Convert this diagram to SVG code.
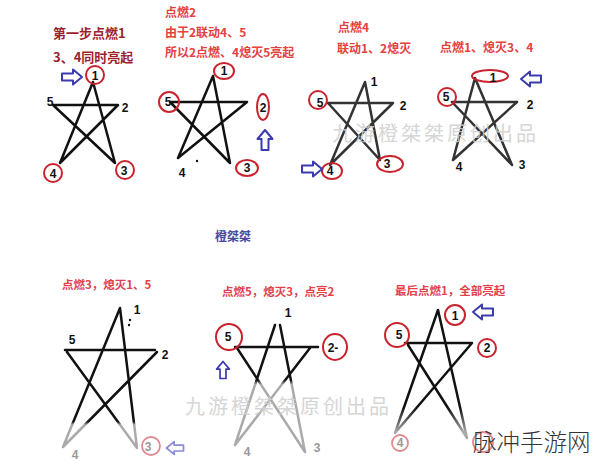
<svg xmlns="http://www.w3.org/2000/svg" width="600" height="463" viewBox="0 0 600 463">
<style>
.bg{fill:#fff}
.st{fill:none;stroke:#111;stroke-width:2.5;stroke-linecap:round;stroke-linejoin:round}
.num{font-family:"Liberation Sans","DejaVu Sans",sans-serif;font-weight:bold;font-size:12px;fill:#111;text-anchor:middle}
.gnum{fill:#999}
.cap{font-family:"Noto Sans CJK SC",sans-serif;font-weight:bold;font-size:12px;fill:#e4413f}
.cap1{font-family:"Noto Sans CJK SC",sans-serif;font-weight:bold;font-size:13px;fill:#9e1f2e}
.capb{font-family:"Noto Sans CJK SC",sans-serif;font-weight:bold;font-size:11.5px;fill:#e2404a}
.ring{fill:none;stroke:#c8232e;stroke-width:2}
.pring{fill:none;stroke:#e08a92;stroke-width:1.8}
.arr{fill:#fff;stroke:#3b3bb0;stroke-width:2;stroke-linejoin:round}
.arrf{fill:#fff;stroke:#8a8ad6;stroke-width:2;stroke-linejoin:round}
.wm{font-family:"Noto Sans CJK SC",sans-serif;font-size:20px;letter-spacing:3px;fill:#cfcfcf;opacity:0.85}
</style>
<defs>
<path id="arrow" d="M-10,-3.5 H1 V-7.5 L10,0 L1,7.5 V3.5 H-10 Z"/>
<linearGradient id="gB1" gradientUnits="userSpaceOnUse" x1="0" y1="300" x2="0" y2="460">
<stop offset="0.76" stop-color="#111"/><stop offset="0.78" stop-color="#aaa"/>
</linearGradient>
<linearGradient id="gB2" gradientUnits="userSpaceOnUse" x1="0" y1="320" x2="0" y2="460">
<stop offset="0.43" stop-color="#111"/><stop offset="0.46" stop-color="#aaa"/>
</linearGradient>
<linearGradient id="gB3" gradientUnits="userSpaceOnUse" x1="0" y1="300" x2="0" y2="450">
<stop offset="0.72" stop-color="#111"/><stop offset="0.88" stop-color="#aaa"/>
</linearGradient>
</defs>
<rect class="bg" x="0" y="0" width="600" height="463"/>

<g id="connectors">
<path class="st" d="M93,82 L60,163 M93,82 L115,163 M53,105 L118,105 L60,163 M53,105 L115,163"/>
<path class="st" d="M213,76 L178,158 M213,76 L230,163 M170,102 L247,102 L178,158 M170,102 L230,163"/>
<path class="st" d="M365,82 L330,165 M365,82 L380,160 M328,103 L393,103 M393,103 L330,165 M328,103 L380,160" style="stroke:#333"/>
<path class="st" d="M475,78 L453,160 M475,78 L512,165 M452,102 L517,102 M517,102 L453,160 M452,102 L512,165" style="stroke:#333"/>
<path class="st" d="M120,308 L63,447 M120,308 L137,448 M65,350 L155,350 M157,352 L63,447 M67,352 L137,448" style="stroke:url(#gB1)"/>
<path class="st" d="M275,325 L235,445 M280,325 L305,452 M235,347 L318,347 M310,348 L235,445 M237,348 L305,452" style="stroke:url(#gB2)"/>
<path class="st" d="M438,310 L395,433 M438,310 L467,438 M405,343 L472,343 L395,433 M408,345 L467,438" style="stroke:url(#gB3)"/>
</g>

<g id="panel1">
<text class="cap1" x="53" y="38">第一步点燃1</text>
<text class="cap1" x="53" y="62">3、4同时亮起</text>
<circle class="ring" cx="95" cy="75" r="9"/>
<text class="num" x="95" y="80">1</text>
<text class="num" x="50" y="106">5</text>
<text class="num" x="125" y="112">2</text>
<circle class="ring" cx="53" cy="173" r="9"/>
<text class="num" x="53" y="178">4</text>
<circle class="ring" cx="125" cy="170" r="9"/>
<text class="num" x="124" y="175">3</text>
<use href="#arrow" class="arr" transform="translate(72,77)"/>
</g>

<g id="panel2">
<text class="cap" x="165" y="17">点燃2</text>
<text class="cap" x="165" y="37">由于2联动4、5</text>
<text class="cap" x="165" y="57">所以2点燃、4熄灭5亮起</text>
<ellipse class="ring" cx="224" cy="71" rx="10" ry="8"/>
<text class="num" x="224" y="75">1</text>
<ellipse class="ring" cx="169" cy="102" rx="10" ry="10"/>
<text class="num" x="168" y="106">5</text>
<ellipse class="ring" cx="263" cy="107" rx="6" ry="13"/>
<text class="num" x="263" y="112">2</text>
<ellipse class="ring" cx="247" cy="168" rx="11" ry="8"/>
<text class="num" x="247" y="172">3</text>
<text class="num" x="182" y="177">4</text>
<circle cx="197" cy="161" r="1.2" fill="#111"/>
<use href="#arrow" class="arr" transform="translate(265,140) rotate(-90)"/>
</g>

<g id="panel3">
<text class="cap" x="338" y="32">点燃4</text>
<text class="cap" x="337" y="53">联动1、2熄灭</text>
<text class="num" x="374" y="86">1</text>
<text class="num" x="403" y="110">2</text>
<circle class="ring" cx="318" cy="100" r="9"/>
<text class="num" x="320" y="107">5</text>
<ellipse class="ring" cx="332" cy="171" rx="10" ry="8"/>
<text class="num" x="330" y="175">4</text>
<ellipse class="ring" cx="390" cy="164" rx="13" ry="8"/>
<text class="num" x="387" y="168">3</text>
<use href="#arrow" class="arr" transform="translate(312,169)"/>
</g>

<g id="panel4">
<text class="cap" x="440" y="52">点燃1、熄灭3、4</text>
<ellipse class="ring" cx="490" cy="76" rx="18" ry="6"/>
<text class="num" x="493" y="82">1</text>
<circle class="ring" cx="447" cy="97" r="9"/>
<text class="num" x="446" y="101">5</text>
<text class="num" x="530" y="109">2</text>
<text class="num" x="459" y="171">4</text>
<text class="num" x="522" y="169">3</text>
<use href="#arrow" class="arr" transform="translate(531,79) rotate(180)"/>
</g>

<g id="author">
<text x="215" y="241" style="font-family:'Noto Sans CJK SC',sans-serif;font-weight:bold;font-size:12px;fill:#4a4a9e">橙桀桀</text>
</g>

<g id="panel5">
<text class="capb" x="62" y="289">点燃3，熄灭1、5</text>
<text class="num" x="137" y="314">1</text>
<circle cx="130" cy="320" r="1.2" fill="#111"/>
<circle cx="129" cy="325" r="1.2" fill="#111"/>
<text class="num" x="72" y="344">5</text>
<text class="num" x="165" y="359">2</text>
<text class="num gnum" x="75" y="459">4</text>
<circle class="pring" cx="151" cy="446" r="9"/>
<text class="num gnum" x="148" y="451">3</text>
<use href="#arrow" class="arrf" transform="translate(175,448) rotate(180) scale(0.85)"/>
</g>

<g id="panel6">
<text class="capb" x="222" y="296">点燃5，熄灭3，点亮2</text>
<text class="num" x="288" y="317">1</text>
<circle class="ring" cx="229" cy="337" r="13"/>
<text class="num" x="228" y="341">5</text>
<ellipse class="ring" cx="335" cy="347" rx="12" ry="13"/>
<text class="num" x="333" y="352">2-</text>
<use href="#arrow" class="arr" transform="translate(223,370) rotate(-90) scale(0.85)"/>
<text class="num gnum" x="247" y="456">4</text>
<text class="num gnum" x="317" y="452">3</text>
</g>

<g id="panel7">
<text class="capb" x="395" y="295">最后点燃1，全部亮起</text>
<circle class="ring" cx="455" cy="315" r="10"/>
<text class="num" x="455" y="320">1</text>
<use href="#arrow" class="arr" transform="translate(483,312) rotate(180)"/>
<circle class="ring" cx="397" cy="335" r="12"/>
<text class="num" x="399" y="339">5</text>
<circle class="ring" cx="487" cy="348" r="9"/>
<text class="num" x="487" y="352">2</text>
<circle class="pring" cx="400" cy="443" r="8"/>
<text class="num gnum" x="400" y="447">4</text>
<circle class="pring" cx="483" cy="442" r="10"/>
</g>

<g id="watermarks">
<text class="wm" x="332" y="141">九游橙桀桀原创出品</text>
<text class="wm" x="185" y="414">九游橙桀桀原创出品</text>
<text x="473" y="451" style="font-family:'Noto Sans CJK SC',sans-serif;font-size:23.5px;fill:#333;font-weight:300">脉冲手游网</text>
</g>
</svg>
